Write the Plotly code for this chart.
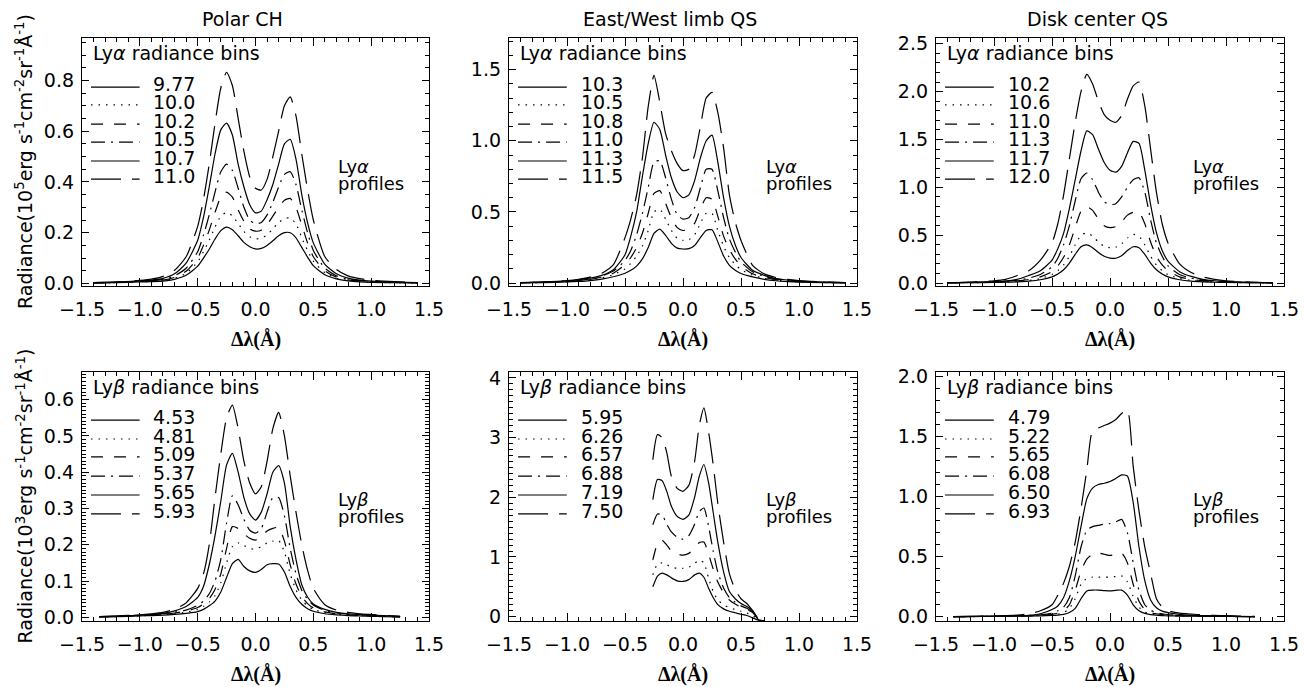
import plotly.graph_objects as go

# ---------------------------------------------------------------------------
# data (radiance vs. delta-lambda, six bins per panel)
# ---------------------------------------------------------------------------
lam_lya = [-1.4, -1.2, -1.0, -0.9, -0.8, -0.7, -0.6, -0.5, -0.45, -0.4, -0.35, -0.3,
           -0.25, -0.2, -0.15, -0.1, -0.05, 0.0, 0.05, 0.1, 0.15, 0.2, 0.25, 0.3,
           0.35, 0.4, 0.45, 0.5, 0.6, 0.7, 0.8, 0.9, 1.0, 1.2, 1.4]
lam_lyb = [-1.35, -1.2, -1.0, -0.9, -0.8, -0.7, -0.6, -0.5, -0.45, -0.4, -0.35, -0.3,
           -0.25, -0.2, -0.15, -0.1, -0.05, 0.0, 0.05, 0.1, 0.15, 0.2, 0.25, 0.3,
           0.35, 0.4, 0.45, 0.5, 0.6, 0.7, 0.8, 0.9, 1.0, 1.1, 1.25]
lam_lyb_limb = [-0.26, -0.22, -0.18, -0.14, -0.1, -0.05, 0.0, 0.05, 0.1, 0.14, 0.18,
                0.22, 0.26, 0.3, 0.35, 0.4, 0.45, 0.5, 0.55, 0.6, 0.65, 0.7]

ch_lya_bins = ["9.77", "10.0", "10.2", "10.5", "10.7", "11.0"]
ch_lya = [
    [0.002, 0.003, 0.006, 0.007, 0.009, 0.016, 0.032, 0.068, 0.1, 0.135, 0.175, 0.208,
     0.222, 0.212, 0.188, 0.162, 0.145, 0.136, 0.138, 0.15, 0.168, 0.188, 0.2, 0.2,
     0.18, 0.142, 0.104, 0.07, 0.034, 0.018, 0.01, 0.006, 0.004, 0.003, 0.002],
    [0.002, 0.003, 0.007, 0.008, 0.011, 0.02, 0.04, 0.085, 0.125, 0.17, 0.222, 0.265,
     0.28, 0.266, 0.236, 0.205, 0.184, 0.176, 0.178, 0.192, 0.215, 0.24, 0.256, 0.258,
     0.235, 0.18, 0.13, 0.088, 0.042, 0.021, 0.012, 0.008, 0.005, 0.003, 0.002],
    [0.002, 0.004, 0.008, 0.01, 0.013, 0.024, 0.048, 0.1, 0.15, 0.21, 0.28, 0.34,
     0.36, 0.34, 0.29, 0.245, 0.215, 0.206, 0.21, 0.232, 0.265, 0.3, 0.328, 0.335,
     0.3, 0.23, 0.16, 0.105, 0.05, 0.025, 0.014, 0.009, 0.006, 0.004, 0.002],
    [0.002, 0.004, 0.009, 0.011, 0.016, 0.03, 0.06, 0.125, 0.19, 0.27, 0.36, 0.44,
     0.47, 0.445, 0.375, 0.3, 0.25, 0.235, 0.24, 0.27, 0.32, 0.38, 0.43, 0.44,
     0.39, 0.29, 0.2, 0.13, 0.06, 0.03, 0.017, 0.011, 0.007, 0.004, 0.002],
    [0.003, 0.005, 0.01, 0.013, 0.02, 0.038, 0.08, 0.17, 0.26, 0.38, 0.51, 0.605,
     0.632, 0.585, 0.47, 0.38, 0.31, 0.278, 0.285, 0.33, 0.39, 0.47, 0.55, 0.568,
     0.49, 0.35, 0.24, 0.16, 0.075, 0.038, 0.021, 0.013, 0.009, 0.005, 0.003],
    [0.003, 0.006, 0.012, 0.017, 0.028, 0.052, 0.105, 0.225, 0.33, 0.47, 0.63, 0.77,
     0.832, 0.78, 0.65, 0.52, 0.42, 0.375, 0.368, 0.41, 0.5, 0.6, 0.7, 0.735,
     0.66, 0.51, 0.37, 0.25, 0.105, 0.055, 0.03, 0.019, 0.013, 0.007, 0.003],
]

limb_lya_bins = ["10.3", "10.5", "10.8", "11.0", "11.3", "11.5"]
limb_lya = [
    [0.002, 0.004, 0.008, 0.012, 0.018, 0.028, 0.045, 0.07, 0.09, 0.12, 0.17, 0.25,
     0.35, 0.38, 0.335, 0.28, 0.246, 0.24, 0.242, 0.265, 0.32, 0.37, 0.375, 0.29,
     0.19, 0.125, 0.09, 0.068, 0.044, 0.027, 0.017, 0.011, 0.007, 0.004, 0.002],
    [0.002, 0.005, 0.01, 0.014, 0.022, 0.036, 0.06, 0.1, 0.14, 0.19, 0.26, 0.37,
     0.5, 0.52, 0.45, 0.37, 0.315, 0.3, 0.305, 0.34, 0.42, 0.49, 0.49, 0.37,
     0.26, 0.18, 0.13, 0.095, 0.056, 0.034, 0.021, 0.014, 0.01, 0.005, 0.002],
    [0.003, 0.006, 0.011, 0.016, 0.026, 0.042, 0.07, 0.13, 0.18, 0.25, 0.35, 0.49,
     0.63, 0.65, 0.56, 0.46, 0.39, 0.37, 0.378, 0.42, 0.52, 0.6, 0.59, 0.47,
     0.33, 0.235, 0.17, 0.12, 0.066, 0.04, 0.025, 0.016, 0.011, 0.006, 0.003],
    [0.003, 0.007, 0.013, 0.019, 0.03, 0.05, 0.085, 0.16, 0.23, 0.34, 0.49, 0.67,
     0.85, 0.86, 0.74, 0.59, 0.48, 0.45, 0.46, 0.53, 0.67, 0.8, 0.8, 0.65,
     0.46, 0.31, 0.22, 0.15, 0.08, 0.048, 0.03, 0.019, 0.013, 0.007, 0.003],
    [0.004, 0.008, 0.016, 0.024, 0.036, 0.055, 0.095, 0.2, 0.33, 0.5, 0.75, 0.98,
     1.13, 1.08, 0.9, 0.74, 0.64, 0.6, 0.62, 0.72, 0.88, 1.0, 1.04, 0.85,
     0.6, 0.4, 0.27, 0.18, 0.09, 0.055, 0.032, 0.022, 0.015, 0.008, 0.004],
    [0.004, 0.009, 0.018, 0.027, 0.042, 0.07, 0.13, 0.32, 0.45, 0.62, 0.88, 1.24,
     1.46, 1.27, 1.05, 0.93, 0.84, 0.79, 0.8, 0.9, 1.1, 1.3, 1.34, 1.2,
     0.95, 0.62, 0.43, 0.3, 0.125, 0.065, 0.04, 0.026, 0.018, 0.009, 0.004],
]

disk_lya_bins = ["10.2", "10.6", "11.0", "11.3", "11.7", "12.0"]
disk_lya = [
    [0.002, 0.004, 0.007, 0.009, 0.013, 0.02, 0.035, 0.065, 0.095, 0.14, 0.21, 0.3,
     0.38, 0.4, 0.37, 0.32, 0.28, 0.262, 0.26, 0.285, 0.34, 0.38, 0.37, 0.3,
     0.21, 0.14, 0.095, 0.065, 0.035, 0.02, 0.013, 0.009, 0.007, 0.004, 0.002],
    [0.002, 0.005, 0.009, 0.012, 0.018, 0.028, 0.048, 0.09, 0.13, 0.19, 0.28, 0.4,
     0.5, 0.525, 0.49, 0.43, 0.385, 0.37, 0.375, 0.41, 0.47, 0.51, 0.49, 0.4,
     0.28, 0.19, 0.13, 0.09, 0.048, 0.028, 0.018, 0.012, 0.009, 0.005, 0.002],
    [0.003, 0.006, 0.012, 0.016, 0.024, 0.038, 0.065, 0.12, 0.18, 0.27, 0.4, 0.58,
     0.75, 0.8, 0.76, 0.67, 0.6, 0.58, 0.59, 0.64, 0.71, 0.74, 0.74, 0.62,
     0.43, 0.28, 0.19, 0.13, 0.065, 0.038, 0.024, 0.016, 0.012, 0.006, 0.003],
    [0.004, 0.008, 0.016, 0.022, 0.032, 0.052, 0.09, 0.17, 0.26, 0.4, 0.6, 0.86,
     1.09, 1.15, 1.08, 0.95, 0.85, 0.82, 0.83, 0.9, 1.0, 1.08, 1.1, 0.95,
     0.66, 0.42, 0.28, 0.18, 0.09, 0.052, 0.032, 0.022, 0.016, 0.008, 0.004],
    [0.004, 0.008, 0.015, 0.02, 0.04, 0.08, 0.13, 0.24, 0.36, 0.52, 0.78, 1.08,
     1.38, 1.59, 1.55, 1.4, 1.26, 1.18, 1.16, 1.22, 1.36, 1.48, 1.46, 1.18,
     0.82, 0.53, 0.34, 0.23, 0.12, 0.07, 0.04, 0.025, 0.016, 0.008, 0.004],
    [0.005, 0.012, 0.025, 0.04, 0.08, 0.13, 0.24, 0.42, 0.62, 0.92, 1.3, 1.68,
     2.0, 2.18, 2.08, 1.9, 1.76, 1.7, 1.68, 1.75, 1.92, 2.06, 2.1, 1.85,
     1.4, 0.95, 0.62, 0.42, 0.2, 0.11, 0.065, 0.04, 0.025, 0.012, 0.005],
]

ch_lyb_bins = ["4.53", "4.81", "5.09", "5.37", "5.65", "5.93"]
ch_lyb = [
    [0.001, 0.002, 0.004, 0.005, 0.006, 0.008, 0.011, 0.016, 0.022, 0.032, 0.045, 0.07,
     0.11, 0.148, 0.16, 0.14, 0.128, 0.124, 0.132, 0.145, 0.148, 0.147, 0.125, 0.085,
     0.055, 0.036, 0.024, 0.017, 0.01, 0.007, 0.005, 0.004, 0.003, 0.002, 0.001],
    [0.001, 0.002, 0.004, 0.006, 0.007, 0.01, 0.014, 0.022, 0.03, 0.042, 0.06, 0.095,
     0.15, 0.195, 0.205, 0.198, 0.19, 0.188, 0.195, 0.205, 0.21, 0.212, 0.18, 0.12,
     0.076, 0.048, 0.032, 0.022, 0.013, 0.009, 0.006, 0.005, 0.004, 0.003, 0.001],
    [0.001, 0.003, 0.005, 0.006, 0.008, 0.012, 0.017, 0.027, 0.037, 0.052, 0.077, 0.12,
     0.19, 0.25, 0.245, 0.23, 0.218, 0.213, 0.222, 0.238, 0.245, 0.248, 0.21, 0.145,
     0.092, 0.058, 0.038, 0.026, 0.015, 0.01, 0.007, 0.005, 0.004, 0.003, 0.001],
    [0.002, 0.003, 0.006, 0.007, 0.01, 0.014, 0.02, 0.033, 0.045, 0.065, 0.1, 0.16,
     0.26, 0.335, 0.31, 0.27, 0.24, 0.232, 0.245, 0.29, 0.33, 0.33, 0.28, 0.19,
     0.12, 0.075, 0.05, 0.034, 0.019, 0.012, 0.009, 0.007, 0.005, 0.004, 0.002],
    [0.002, 0.003, 0.006, 0.008, 0.011, 0.018, 0.03, 0.055, 0.085, 0.145, 0.225, 0.32,
     0.42, 0.452, 0.4, 0.33, 0.285, 0.268, 0.29, 0.34, 0.4, 0.418, 0.37, 0.25,
     0.16, 0.09, 0.056, 0.037, 0.022, 0.014, 0.01, 0.008, 0.006, 0.005, 0.003],
    [0.002, 0.004, 0.007, 0.01, 0.014, 0.022, 0.04, 0.08, 0.12, 0.2, 0.33, 0.45,
     0.55, 0.585, 0.52, 0.43, 0.37, 0.34, 0.36, 0.43, 0.52, 0.565, 0.5, 0.39,
     0.29, 0.2, 0.13, 0.08, 0.035, 0.02, 0.014, 0.01, 0.008, 0.006, 0.003],
]

limb_lyb_bins = ["5.95", "6.26", "6.57", "6.88", "7.19", "7.50"]
limb_lyb = [
    [0.5, 0.68, 0.73, 0.7, 0.65, 0.6, 0.59, 0.62, 0.7, 0.73, 0.66,
     0.48, 0.32, 0.2, 0.13, 0.09, 0.065, 0.04, 0.02, -0.02, -0.06, -0.07],
    [0.7, 0.88, 0.9, 0.87, 0.83, 0.81, 0.81, 0.83, 0.89, 0.95, 0.9,
     0.65, 0.42, 0.28, 0.2, 0.15, 0.12, 0.09, 0.06, 0.02, -0.05, -0.07],
    [0.95, 1.22, 1.28, 1.2, 1.1, 1.05, 1.03, 1.06, 1.15, 1.24, 1.25,
     1.05, 0.8, 0.58, 0.4, 0.28, 0.21, 0.16, 0.12, 0.07, -0.04, -0.07],
    [1.54, 1.72, 1.7, 1.55, 1.42, 1.33, 1.3, 1.36, 1.55, 1.76, 1.82,
     1.52, 1.1, 0.75, 0.48, 0.32, 0.24, 0.18, 0.14, 0.08, -0.04, -0.07],
    [1.96, 2.3, 2.28, 2.1, 1.85, 1.68, 1.63, 1.7, 2.0, 2.35, 2.55,
     2.25, 1.75, 1.25, 0.75, 0.42, 0.3, 0.22, 0.17, 0.1, -0.05, -0.07],
    [2.63, 3.05, 3.0, 2.75, 2.35, 2.15, 2.1, 2.2, 2.6, 3.2, 3.5,
     3.1, 2.55, 1.9, 1.25, 0.72, 0.45, 0.3, 0.22, 0.1, -0.03, -0.06],
]

disk_lyb_bins = ["4.79", "5.22", "5.65", "6.08", "6.50", "6.93"]
disk_lyb = [
    [0.001, 0.002, 0.003, 0.004, 0.005, 0.006, 0.008, 0.011, 0.014, 0.02, 0.035, 0.07,
     0.15, 0.215, 0.222, 0.222, 0.218, 0.215, 0.22, 0.222, 0.18, 0.1, 0.05, 0.028,
     0.018, 0.013, 0.01, 0.008, 0.006, 0.005, 0.004, 0.003, 0.003, 0.002, 0.001],
    [0.001, 0.002, 0.003, 0.004, 0.005, 0.007, 0.01, 0.016, 0.022, 0.035, 0.07, 0.15,
     0.27, 0.32, 0.33, 0.33, 0.33, 0.33, 0.335, 0.34, 0.29, 0.17, 0.08, 0.04,
     0.025, 0.017, 0.013, 0.01, 0.007, 0.006, 0.005, 0.004, 0.003, 0.002, 0.001],
    [0.001, 0.002, 0.004, 0.005, 0.006, 0.008, 0.012, 0.02, 0.03, 0.05, 0.1, 0.22,
     0.38, 0.48, 0.52, 0.53, 0.52, 0.51, 0.52, 0.53, 0.45, 0.27, 0.13, 0.06,
     0.035, 0.024, 0.018, 0.014, 0.009, 0.007, 0.006, 0.005, 0.004, 0.003, 0.001],
    [0.001, 0.002, 0.004, 0.006, 0.008, 0.011, 0.017, 0.03, 0.05, 0.08, 0.16, 0.34,
     0.58, 0.72, 0.75, 0.76, 0.77, 0.775, 0.79, 0.81, 0.7, 0.45, 0.22, 0.1,
     0.055, 0.035, 0.025, 0.019, 0.012, 0.009, 0.007, 0.005, 0.004, 0.003, 0.001],
    [0.001, 0.003, 0.005, 0.007, 0.009, 0.012, 0.025, 0.06, 0.09, 0.16, 0.3, 0.5,
     0.75, 0.98, 1.07, 1.1, 1.11, 1.125, 1.15, 1.18, 1.17, 0.95, 0.58, 0.3,
     0.14, 0.075, 0.047, 0.035, 0.02, 0.013, 0.01, 0.008, 0.006, 0.004, 0.002],
    [0.002, 0.004, 0.007, 0.01, 0.014, 0.025, 0.05, 0.1, 0.18, 0.28, 0.42, 0.62,
     0.9, 1.22, 1.55, 1.57, 1.59, 1.61, 1.64, 1.69, 1.72, 1.25, 0.88, 0.58,
     0.36, 0.15, 0.08, 0.05, 0.03, 0.022, 0.016, 0.012, 0.009, 0.006, 0.003],
]

region_titles = ["Polar CH", "East/West limb QS", "Disk center QS"]

# ---------------------------------------------------------------------------
# layout helpers: pixel geometry of the 1306x687 page. The page body keeps
# its default 8 px margin, so the figure is shifted up/left by 8 px and sized
# to end at the window edge.
# ---------------------------------------------------------------------------
PAGE_W, PAGE_H = 1306, 687
OFF = 8
W, H = PAGE_W - OFF, PAGE_H - OFF
COL_PX = [(82, 429), (509, 857), (936, 1284)]
ROW_PX = [(38, 286), (372, 621)]
FONT = "DejaVu Sans"
DASHES = ["solid", "1.5px,6px", "12px,11px", "14px,6px,2px,6px", "solid", "30px,11px"]
LEGEND_ROWS = [[0.802, 0.730, 0.653, 0.580, 0.504, 0.431],
               [0.807, 0.731, 0.659, 0.582, 0.506, 0.430]]


def fx(px):
    return (px - OFF) / W


def fy(py):
    return 1 - (py - OFF) / H


panels = [
    # row, col, x grid, curves, bins, line, y range, dtick, minor dtick, format
    (0, 0, lam_lya, ch_lya, ch_lya_bins, "α", [-0.01, 0.967], 0.2, 0.05, ".1f"),
    (0, 1, lam_lya, limb_lya, limb_lya_bins, "α", [-0.02, 1.722], 0.5, 0.1, ".1f"),
    (0, 2, lam_lya, disk_lya, disk_lya_bins, "α", [-0.03, 2.56], 0.5, 0.1, ".1f"),
    (1, 0, lam_lyb, ch_lyb, ch_lyb_bins, "β", [-0.01, 0.676], 0.1, 0.01, ".1f"),
    (1, 1, lam_lyb_limb, limb_lyb, limb_lyb_bins, "β", [-0.073, 4.1], 1, 0.1, "d"),
    (1, 2, lam_lyb, disk_lyb, disk_lyb_bins, "β", [-0.035, 2.035], 0.5, 0.1, ".1f"),
]

fig = go.Figure()
layout = {}
annotations = []
shapes = []

for i, (row, col, lam, curves, bins, line, yrange, dtick, mdtick, fmt) in enumerate(panels):
    n = i + 1
    sfx = "" if n == 1 else str(n)
    x0, x1 = COL_PX[col]
    y0, y1 = ROW_PX[row]

    for k, vals in enumerate(curves):
        fig.add_trace(go.Scatter(
            x=lam, y=vals, mode="lines", xaxis="x" + sfx, yaxis="y" + sfx,
            line=dict(color="black", width=1.2, dash=DASHES[k], shape="spline", smoothing=0.6),
            showlegend=False, hoverinfo="skip",
        ))

    common = dict(
        showline=True, linecolor="black", linewidth=1.3, mirror="allticks",
        ticks="inside", tickcolor="black", tickwidth=1, showgrid=False, zeroline=False,
        automargin=False, ticklabeloverflow="allow",
        tickfont=dict(family=FONT, size=19, color="black"),
    )
    layout["xaxis" + sfx] = dict(
        common, domain=[fx(x0), fx(x1)], anchor="y" + sfx, range=[-1.5, 1.5],
        dtick=0.5, tick0=0, ticklen=8, tickformat=".1f", ticklabelstandoff=6,
        minor=dict(dtick=0.1, ticklen=4, ticks="inside", tickcolor="black", tickwidth=1),
    )
    layout["yaxis" + sfx] = dict(
        common, domain=[fy(y1), fy(y0)], anchor="x" + sfx, range=yrange,
        dtick=dtick, tick0=0, ticklen=7, tickformat=fmt, ticklabelstandoff=3,
        minor=dict(dtick=mdtick, ticklen=3.5, ticks="inside", tickcolor="black", tickwidth=1),
    )

    xref = "x" + sfx + " domain"
    yref = "y" + sfx + " domain"
    txt = dict(family=FONT, size=18, color="black")
    big = dict(family=FONT, size=19, color="black")

    annotations.append(dict(
        text="Ly<i>%s</i> radiance bins" % line, xref=xref, yref=yref, x=0.027, y=0.94,
        xanchor="left", yanchor="middle", showarrow=False, font=big))
    for k, lab in enumerate(bins):
        ry = LEGEND_ROWS[row][k]
        shapes.append(dict(type="line", xref=xref, yref=yref, x0=0.026, x1=0.166,
                           y0=ry, y1=ry, line=dict(color="black", width=1.2, dash=DASHES[k])))
        annotations.append(dict(
            text=lab, xref=xref, yref=yref, x=0.2, y=ry + 0.012, xanchor="left",
            yanchor="middle", showarrow=False, font=big))
    py = [0.48, 0.415] if row == 0 else [0.486, 0.418]
    annotations.append(dict(text="Ly<i>%s</i>" % line, xref=xref, yref=yref, x=0.733, y=py[0],
                            xanchor="left", yanchor="middle", showarrow=False, font=txt))
    annotations.append(dict(text="profiles", xref=xref, yref=yref, x=0.733, y=py[1],
                            xanchor="left", yanchor="middle", showarrow=False, font=txt))

    # x-axis title under every panel
    annotations.append(dict(
        text="<b>Δλ(Å)</b>", xref="paper", yref="paper", x=fx((x0 + x1) / 2),
        y=fy(y1 + 53), xanchor="center", yanchor="middle", showarrow=False,
        font=dict(family="Liberation Serif", size=20, color="black")))

    if row == 0:
        annotations.append(dict(
            text=region_titles[col], xref="paper", yref="paper", x=fx((x0 + x1) / 2 - 13),
            y=fy(19), xanchor="center", yanchor="middle", showarrow=False, font=big))

for row, exp in enumerate(["5", "3"]):
    y0, y1 = ROW_PX[row]
    annotations.append(dict(
        text="Radiance(10<sup>%s</sup>erg s<sup>-1</sup>cm<sup>-2</sup>sr<sup>-1</sup>Å<sup>-1</sup>)" % exp,
        xref="paper", yref="paper", x=fx(24), y=fy((y0 + y1) / 2), textangle=-90,
        xanchor="center", yanchor="middle", showarrow=False,
        font=dict(family=FONT, size=19, color="black")))

fig.update_layout(
    **layout,
    width=W, height=H, autosize=False,
    margin=dict(l=0, r=0, t=0, b=0, pad=0, autoexpand=False),
    paper_bgcolor="white", plot_bgcolor="white",
    annotations=annotations, shapes=shapes,
    showlegend=False,
)

fig.write_html("out.html")
